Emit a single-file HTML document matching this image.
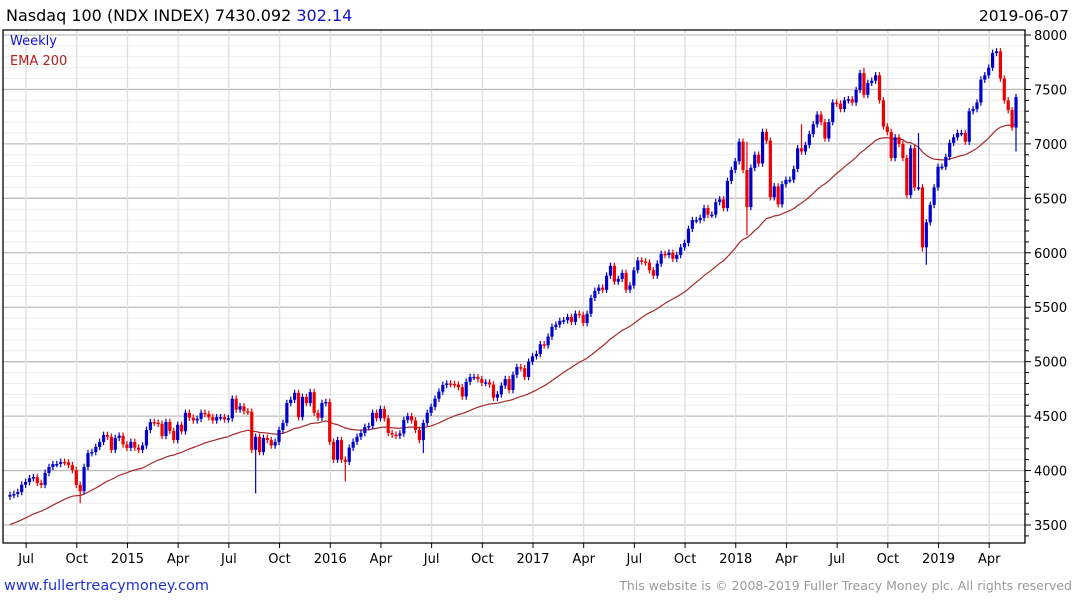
<!DOCTYPE html>
<html><head><meta charset="utf-8">
<style>
body{margin:0;background:#fff;width:1075px;height:600px;overflow:hidden;font-family:"DejaVu Sans","Liberation Sans",sans-serif;}
svg{display:block}
</style></head>
<body>
<svg id="chart" width="1075" height="600" xmlns="http://www.w3.org/2000/svg">
<text x="6" y="21" font-size="16" fill="#000">Nasdaq 100 (NDX INDEX) 7430.092 <tspan fill="#1111cc">302.14</tspan></text>
<text x="1069" y="21" font-size="15.5" text-anchor="end" fill="#000">2019-06-07</text>
<g id="grid"></g>
<g id="marks"></g>
<g id="axes"></g>
<text x="10" y="45" font-size="13" fill="#1111cc">Weekly</text>
<text x="10" y="65" font-size="13" fill="#b02020">EMA 200</text>
<text x="4" y="590" font-size="14.5" fill="#2233cc">www.fullertreacymoney.com</text>
<text x="1072" y="590" font-size="12.5" text-anchor="end" fill="#999">This website is © 2008-2019 Fuller Treacy Money plc. All rights reserved</text>
</svg>
<script>
const closes=[3776,3785,3803,3870,3895,3930,3940,3886,3868,3978,4033,4060,4060,4080,4075,4050,4005,3868,3810,4033,4160,4170,4217,4263,4327,4310,4190,4300,4320,4240,4208,4263,4210,4190,4230,4373,4446,4440,4430,4318,4446,4364,4280,4420,4360,4530,4485,4460,4475,4530,4520,4490,4460,4490,4490,4470,4480,4660,4560,4590,4545,4540,4190,4310,4170,4300,4280,4230,4263,4373,4437,4620,4650,4713,4490,4676,4620,4720,4530,4485,4620,4630,4263,
4100,4280,4100,4080,4210,4265,4310,4345,4400,4410,4530,4480,4565,4480,4345,4330,4320,4340,4465,4500,4460,4373,4280,4437,4530,4585,4660,4725,4786,4800,4795,4790,4765,4680,4815,4860,4860,4840,4805,4810,4790,4670,4700,4780,4840,4740,4880,4950,4940,4860,5000,5050,5070,5160,5150,5230,5320,5340,5375,5380,5410,5365,5440,5430,5355,5440,5585,5650,5680,5660,5790,5880,5735,5760,5815,5660,5700,5840,5930,5920,5910,5840,5790,5900,5990,5980,6000,5945,5980,6050,6090,
6220,6300,6300,6320,6410,6350,6350,6465,6490,6410,6660,6760,6840,7020,6760,6420,6780,6900,6820,7110,7030,6510,6610,6445,6630,6670,6670,6770,6960,6930,6990,7090,7180,7270,7200,7050,7200,7380,7370,7320,7400,7410,7380,7495,7650,7450,7560,7580,7630,7400,7160,7110,6870,7060,7000,6870,6530,6960,6600,6600,6050,6280,6440,6600,6790,6790,6880,7010,7060,7100,7100,7020,7300,7320,7380,7590,7630,7700,7835,7850,7600,7400,7310,7150,7430];
const firstOpen=3760;
const lowSpikeIdx=[18,63,86,106,189,234,235,258];
const lowSpikeVal=[3700,3790,3900,4160,6160,6010,5890,6930];
const highSpikeIdx=[189,203,219,233];
const highSpikeVal=[7020,7180,7700,7100];
const emaSeed=3490;
const emaPeriod=40;
const yTicks=[3500,4000,4500,5000,5500,6000,6500,7000,7500,8000];
const xLabels=["Jul","Oct","2015","Apr","Jul","Oct","2016","Apr","Jul","Oct","2017","Apr","Jul","Oct","2018","Apr","Jul","Oct","2019","Apr"];
const xLabelWeek=[4,17,30,43,56,69,82,95,108,121,134,147,160,173,186,199,212,225,238,251];

const NS="http://www.w3.org/2000/svg";
const L=3,R=1025,T=30,B=543;
const x0=10,x1=1016;
function X(i){return x0+(x1-x0)*i/(closes.length-1);}
function Y(v){return 525-(v-3500)*(490/4500);}
function mk(tag,attrs,parent){const e=document.createElementNS(NS,tag);for(const k in attrs)e.setAttribute(k,attrs[k]);parent.appendChild(e);return e;}
const grid=document.getElementById('grid'),marks=document.getElementById('marks'),axes=document.getElementById('axes');
for(let v=3400;v<=8000;v+=100){
  const y=Y(v); if(y<T||y>B)continue;
  const major=v%500===0;
  const ln=mk('line',{x1:L,x2:R,y1:y,y2:y,stroke:major?'#bdbdbd':'#ececec','stroke-width':major?1.3:1},grid);
  
  
}
xLabelWeek.forEach((w,k)=>{
  const x=X(w)+0.5;
  const ln=mk('line',{x1:x,x2:x,y1:T,y2:B,stroke:'#dedede','stroke-width':1.3},grid);
  
  
  const t=mk('text',{x:x,y:563,'font-size':13,'text-anchor':'middle',fill:'#000'},axes);
  t.textContent=xLabels[k];
  
  
  mk('line',{x1:x,x2:x,y1:B,y2:B+5,stroke:'#000'},axes);
});
mk('path',{d:`M${L},${B} L${L},${T} L${R},${T} L${R},${B} Z`,fill:'none',stroke:'#000','stroke-width':1.3},axes);
for(let v=3400;v<=8000;v+=100){const y=Y(v);if(y<T||y>B)continue;mk('line',{x1:R,x2:R+(v%500===0?6:4),y1:y,y2:y,stroke:'#000'},axes);}
yTicks.forEach(v=>{
  const t=mk('text',{x:1034,y:Y(v)+5,'font-size':13,fill:'#000'},axes);
  t.textContent=v;
  
  
});
let ema=emaSeed,pts=[];const a=2/(emaPeriod+1);
closes.forEach((c,i)=>{ema=ema+a*(c-ema);pts.push(X(i).toFixed(1)+','+Y(ema).toFixed(1));});
const emaLine=mk('polyline',{points:pts.join(' '),fill:'none',stroke:'#a52a2a','stroke-width':1.2},marks);


closes.forEach((c,i)=>{
  const o=i===0?firstOpen:closes[i-1];
  let hi=Math.max(o,c)+30,lo=Math.min(o,c)-30;
  const li=lowSpikeIdx.indexOf(i);if(li>=0)lo=lowSpikeVal[li];
  const hj=highSpikeIdx.indexOf(i);if(hj>=0)hi=highSpikeVal[hj];
  const col=c>=o?'#0000cc':'#ee0000';
  const x=X(i);
  const g=mk('g',{},marks);
  
  
  mk('line',{x1:x,x2:x,y1:Y(hi),y2:Y(lo),stroke:col,'stroke-width':1.2},g);
  const top=Y(Math.max(o,c)),bot=Y(Math.min(o,c));
  mk('rect',{x:x-1.6,y:top,width:3.2,height:Math.max(1.5,bot-top),fill:col},g);
});
</script>
</body></html>
